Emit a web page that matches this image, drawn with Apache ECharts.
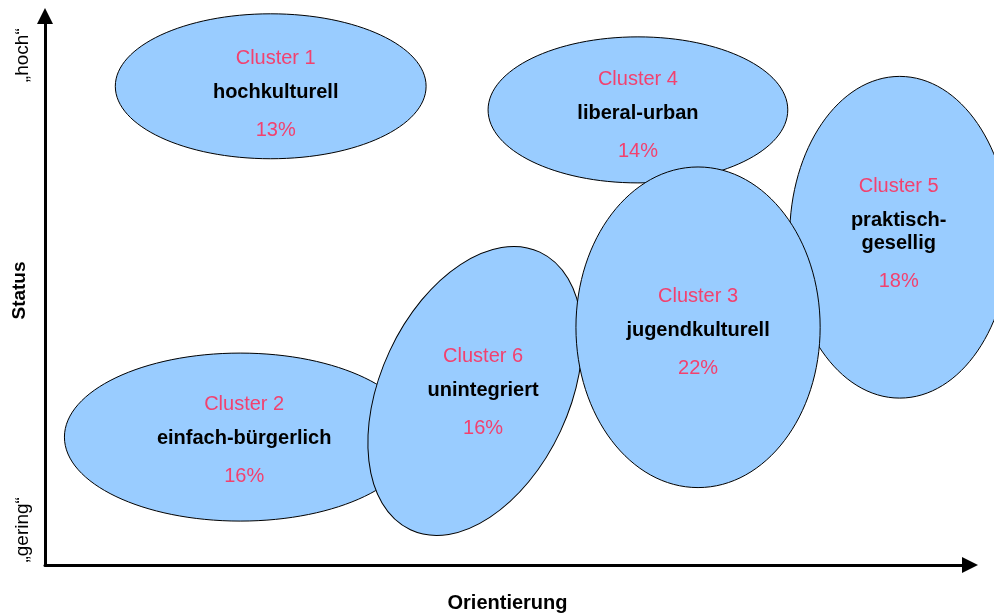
<!DOCTYPE html>
<html>
<head>
<meta charset="utf-8">
<script src="https://cdn.jsdelivr.net/npm/echarts@6/dist/echarts.min.js"></script>
<style>
  html, body { margin: 0; padding: 0; background: #fff; }
  #main { width: 994px; height: 614px; }
</style>
</head>
<body>
<div id="main"></div>
<script>
// clusters, listed in drawing order (later ones lie on top)
var titles = ['Cluster 1', 'Cluster 2', 'Cluster 4', 'Cluster 5', 'Cluster 6', 'Cluster 3']
var names = ['hochkulturell', 'einfach-bürgerlich', 'liberal-urban', 'praktisch-\ngesellig', 'unintegriert', 'jugendkulturell']
var shares = ['13%', '16%', '14%', '18%', '16%', '22%']
// position on Orientierung (x) and Status (y), 0..100
var orientPos = [24.4, 21.1, 64.1, 92.4, 46.5, 70.6]
var statusPos = [87.2, 23.3, 82.9, 59.7, 31.7, 43.3]
// spread of each cluster along x and y, and tilt in degrees
var spreadX = [16.8, 19.0, 16.2, 11.9, 10.2, 13.2]
var spreadY = [13.2, 15.3, 13.3, 29.3, 27.9, 29.2]
var tilt = [0, 0, 0, 0, -25, 0]
// axis end labels
var statusTicks = ['„gering“', '', '', '', '', '', '„hoch“']

var font = "'Liberation Sans', Arial, sans-serif"
var pink = '#f2416f'
// small nudges of the text block inside each ellipse (px)
var textShift = [[5, 6], [4, 1], [0, 4], [-1, -5], [8, 0], [0, 3]]

var seriesData = []
for (var i = 0; i < titles.length; i++) {
  seriesData.push([orientPos[i], statusPos[i], spreadX[i], spreadY[i], tilt[i]])
}

var myChart = echarts.init(document.getElementById('main'))
myChart.setOption({
  animation: false,
  grid: { left: 45, right: 24, top: 16, bottom: 49, outerBoundsMode: 'none' },
  xAxis: {
    type: 'value',
    min: 0,
    max: 100,
    name: 'Orientierung',
    nameLocation: 'middle',
    nameGap: 28,
    nameTextStyle: { fontFamily: font, fontSize: 20, fontWeight: 'bold', color: '#000' },
    axisLine: {
      show: true,
      onZero: false,
      symbol: ['none', 'triangle'],
      symbolSize: [16, 16],
      lineStyle: { color: '#000', width: 3 }
    },
    axisTick: { show: false },
    axisLabel: { show: false },
    splitLine: { show: false }
  },
  yAxis: [{
    type: 'value',
    min: 0,
    max: 100,
    name: 'Status',
    nameLocation: 'middle',
    nameRotate: 90,
    nameGap: 16,
    nameTextStyle: { fontFamily: font, fontSize: 19, fontWeight: 'bold', color: '#000' },
    axisLine: {
      show: true,
      onZero: false,
      symbol: ['none', 'triangle'],
      symbolSize: [16, 16],
      lineStyle: { color: '#000', width: 3 }
    },
    axisTick: { show: false },
    axisLabel: { show: false },
    splitLine: { show: false }
  }, {
    type: 'category',
    position: 'left',
    data: statusTicks,
    axisLine: { show: false },
    axisTick: { show: false },
    splitLine: { show: false },
    axisLabel: {
      rotate: 90,
      margin: 13,
      interval: 0,
      fontFamily: font,
      fontSize: 19,
      color: '#000',
      formatter: function (v, idx) {
        return idx === 0 ? '{g|' + v + '}' : v
      },
      rich: {
        g: { fontFamily: font, fontSize: 19, color: '#000', padding: [0, 8, 0, 0] }
      }
    }
  }],
  series: [{
    type: 'custom',
    yAxisIndex: 0,
    data: seriesData,
    renderItem: function (params, api) {
      var i = params.dataIndex
      var c = api.coord([api.value(0), api.value(1)])
      var s = api.size([api.value(2), api.value(3)])
      var sh = textShift[i]
      var tx = c[0] + sh[0]
      var ty = c[1] + sh[1]
      var half = (names[i].split('\n').length - 1) * 11.5
      return {
        type: 'group',
        children: [{
          type: 'ellipse',
          x: c[0],
          y: c[1],
          rotation: api.value(4) * Math.PI / 180,
          shape: { cx: 0, cy: 0, rx: s[0], ry: s[1] },
          style: { fill: '#99ccff', stroke: '#000', lineWidth: 1 }
        }, {
          type: 'text',
          x: tx,
          y: ty - half - 34,
          style: {
            text: titles[i], fill: pink, font: '20px ' + font,
            align: 'center', verticalAlign: 'middle'
          }
        }, {
          type: 'text',
          x: tx,
          y: ty,
          style: {
            text: names[i], fill: '#000', font: 'bold 20px ' + font,
            lineHeight: 23, align: 'center', verticalAlign: 'middle'
          }
        }, {
          type: 'text',
          x: tx,
          y: ty + half + 38,
          style: {
            text: shares[i], fill: pink, font: '20px ' + font,
            align: 'center', verticalAlign: 'middle'
          }
        }]
      }
    }
  }]
})
</script>
</body>
</html>
